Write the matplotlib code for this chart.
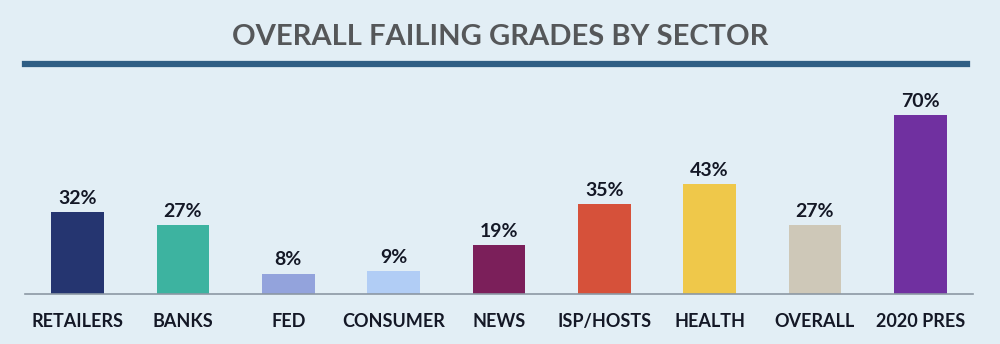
import matplotlib.pyplot as plt
from matplotlib.lines import Line2D

sectors = ["RETAILERS", "BANKS", "FED", "CONSUMER", "NEWS",
           "ISP/HOSTS", "HEALTH", "OVERALL", "2020 PRES"]
failing = [32, 27, 8, 9, 19, 35, 43, 27, 70]
colors = ["#253570", "#3DB3A0", "#93A3DC", "#B1CDF5", "#7B1F5A",
          "#D6513A", "#EFC84A", "#CEC8B8", "#7030A0"]

bg = "#E2EEF5"
plt.rcParams['font.family'] = ['Lato', 'DejaVu Sans']

fig = plt.figure(figsize=(10, 3.44), dpi=100, facecolor=bg)
ax = fig.add_axes([0.025, 0.1453, 0.948, 0.595])
ax.set_facecolor(bg)

x = range(len(sectors))
ax.bar(x, failing, width=0.5, color=colors)
for xi, v in zip(x, failing):
    ax.text(xi, v + 2.0, f"{v}%", ha="center", va="bottom",
            fontsize=14, fontweight="bold", color="#141826")

ax.set_xlim(-0.5, 8.5)
ax.set_ylim(0, 80)
ax.set_xticks(list(x))
ax.set_xticklabels(sectors, fontsize=13, fontweight="bold", color="#141826")
ax.tick_params(axis="x", length=0, pad=14)
ax.set_yticks([])
for side in ["top", "right", "left"]:
    ax.spines[side].set_visible(False)
ax.spines["bottom"].set_color("#8C98A4")
ax.spines["bottom"].set_linewidth(1.2)

fig.text(0.5, 1 - 37 / 344, "OVERALL FAILING GRADES BY SECTOR",
         ha="center", va="center", fontsize=21, fontweight="bold",
         color="#555759")
fig.add_artist(Line2D([0.025, 0.967], [1 - 64 / 344] * 2,
                      transform=fig.transFigure, color="#2F5E84",
                      linewidth=4.5))

fig.savefig("out.png", dpi=100, facecolor=bg)
